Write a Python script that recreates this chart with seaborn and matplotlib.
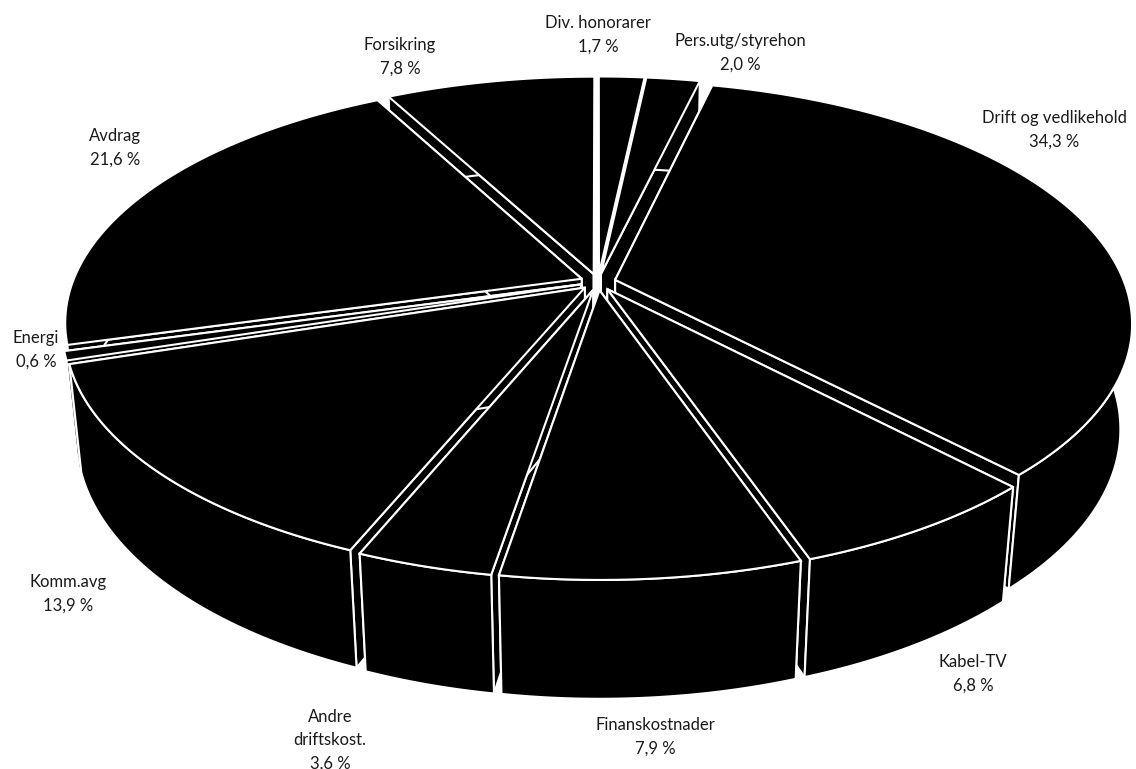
import numpy as np
import matplotlib
matplotlib.use("Agg")
import matplotlib.pyplot as plt
import seaborn as sns
from matplotlib.patches import Polygon

# ---------------- data ----------------
categories = ["Div. honorarer", "Pers.utg/styrehon", "Drift og vedlikehold",
              "Kabel-TV", "Finanskostnader", "Andre\ndriftskost.", "Komm.avg",
              "Energi", "Avdrag", "Forsikring"]
values = [1.7, 2.0, 34.3, 6.8, 7.9, 3.6, 13.9, 0.6, 21.6, 7.8]
value_labels = ["1,7 %", "2,0 %", "34,3 %", "6,8 %", "7,9 %", "3,6 %",
                "13,9 %", "0,6 %", "21,6 %", "7,8 %"]

# ---------------- layout ----------------
label_pos = [(598, 35), (740, 53), (1054, 130), (973, 674), (655, 737),
             (330, 740), (68, 594), (36, 350), (115, 148), (400, 57)]

sns.set_theme(style="white")
plt.rcParams['font.family'] = ['Lato', 'DejaVu Sans']

W, H = 1136, 769
fig = plt.figure(figsize=(W / 100, H / 100), dpi=100)
ax = fig.add_axes([0, 0, 1, 1])
ax.set_xlim(0, W)
ax.set_ylim(H, 0)
ax.axis('off')

CX, CY = 598, 282
S = 509
ELEV = np.radians(27.5)
DIST = 5.0
DEPTH = 0.235
EXPLODE = 0.035


def project(X, Y, Z):
    X = np.asarray(X, float); Y = np.asarray(Y, float); Z = np.asarray(Z, float)
    w = Y * np.cos(ELEV) - Z * np.sin(ELEV)
    k = DIST / (DIST + w)
    sx = X * k
    sy = (Y * np.sin(ELEV) + Z * np.cos(ELEV)) * k
    return np.column_stack([CX + S * sx, CY - S * sy])


total = float(sum(values))
cum = np.concatenate([[0], np.cumsum(values)])
slices = []
for i, v in enumerate(values):
    a0 = 90 - 360 * cum[i] / total
    a1 = 90 - 360 * cum[i + 1] / total
    mid = np.radians((a0 + a1) / 2)
    slices.append((i, np.radians(a0), np.radians(a1), mid))

order = sorted(slices, key=lambda s: -np.sin(s[3]))

kw = dict(facecolor='black', edgecolor='white', linewidth=1.5, joinstyle='miter')
for i, a0, a1, mid in order:
    ox, oy = EXPLODE * np.cos(mid), EXPLODE * np.sin(mid)
    n = max(4, int(abs(a0 - a1) * 80))
    t = np.linspace(a0, a1, n)
    ax_ = ox + np.cos(t)
    ay_ = oy + np.sin(t)
    top = project(ax_, ay_, np.zeros(n))
    bot = project(ax_, ay_, np.full(n, -DEPTH))
    c_top = project([ox], [oy], [0])
    c_bot = project([ox], [oy], [-DEPTH])
    # radial faces
    for a in (a0, a1):
        rt = project([ox + np.cos(a)], [oy + np.sin(a)], [0])
        rb = project([ox + np.cos(a)], [oy + np.sin(a)], [-DEPTH])
        ax.add_patch(Polygon(np.vstack([c_top, rt, rb, c_bot]), closed=True, **kw))
    # outer wall
    ax.add_patch(Polygon(np.vstack([top, bot[::-1]]), closed=True, **kw))
    # top face
    ax.add_patch(Polygon(np.vstack([c_top, top]), closed=True, **kw))

for (x, y), cat, val in zip(label_pos, categories, value_labels):
    ax.text(x, y, f"{cat}\n{val}", ha='center', va='center', fontsize=12,
            color='#1a1a1a', linespacing=1.55)

fig.savefig("out.png", dpi=100, facecolor='white')
